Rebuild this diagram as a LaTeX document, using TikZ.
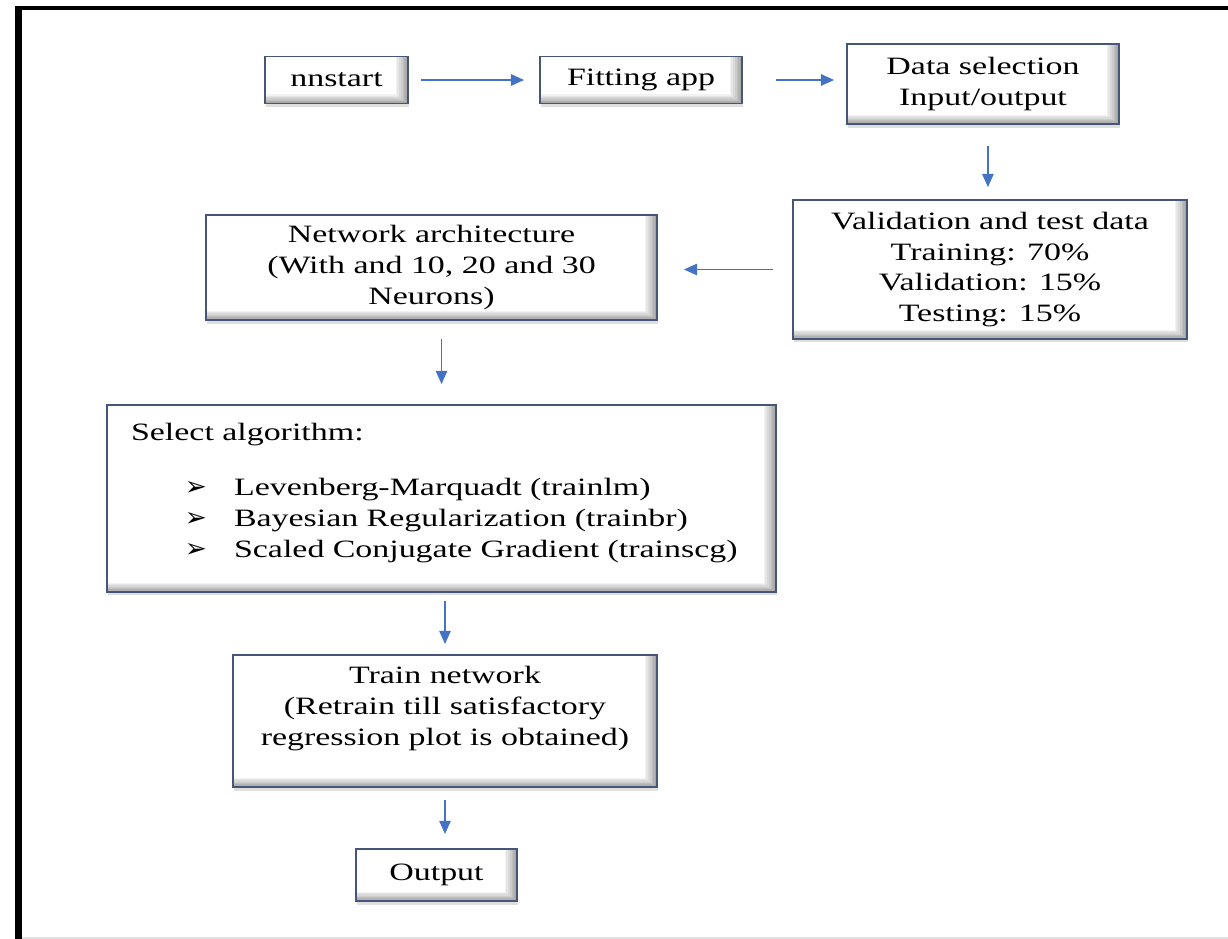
\documentclass[tikz,border=0pt]{standalone}
\usepackage{fontspec}
\setmainfont[FakeStretch=1.36]{Liberation Serif}
\newfontfamily\bulletfont{DejaVu Sans}
\usetikzlibrary{arrows.meta,shadows}

\definecolor{boxline}{RGB}{70,86,120}
\definecolor{flowblue}{RGB}{68,114,196}
\newcommand{\algitem}{\hspace*{30.7pt}\makebox[27.9pt][l]{\bulletfont\fontsize{15}{17}\selectfont ➢}}

\begin{document}
\begin{tikzpicture}[x=0.02cm, y=-0.02cm,
	font=\fontsize{14.2}{17.6}\selectfont,
	bevelbox/.style={draw=boxline, line width=1.1pt, fill=white, align=center, inner sep=0pt,
		drop shadow={shadow xshift=0.5pt, shadow yshift=-2pt, opacity=0.25},
		path picture={
			\foreach \k [evaluate=\k as \g using int(5*\k)] in {1,...,7} {
				\fill[black!\g] ([xshift=-8pt+\k pt]path picture bounding box.north east) rectangle (path picture bounding box.south east);
				\fill[black!\g] ([yshift=6pt-0.75*\k pt]path picture bounding box.south west) rectangle (path picture bounding box.south east);
			}
			\draw[boxline!70!black, line width=1.6pt] (path picture bounding box.north east) -- (path picture bounding box.south east);
		}},
	flow/.style={draw=flowblue, line width=0.8pt, -{Triangle[length=7.5pt,width=6.5pt]}}]
	\useasboundingbox (0,0) rectangle (1228,939);
	% Frame:
	\draw[line width=0.08cm] (15,8) -- (1228,8);
	\draw[line width=0.13cm] (18.5,6) -- (18.5,939);
	\draw[black!12, line width=0.04cm] (22,937.5) -- (1228,937.5);
	% Boxes:
	\node[bevelbox, minimum width=2.86cm, minimum height=0.94cm] (nnstart) at (336.5,80) {nnstart};
	\node[bevelbox, minimum width=4.04cm, minimum height=0.94cm] (fitting) at (641,80) {Fitting app};
	\node[bevelbox, minimum width=5.44cm, minimum height=1.6cm] (datasel) at (983,84) {Data selection\\Input/output};
	\node[bevelbox, minimum width=7.88cm, minimum height=2.78cm] (valid) at (990,269.5) {Validation and test data\\Training: 70\%\\Validation: 15\%\\Testing: 15\%};
	\node[bevelbox, minimum width=9.02cm, minimum height=2.1cm] (network) at (431.5,267.5) {Network architecture\\(With and 10, 20 and 30\\Neurons)};
	\node[bevelbox, minimum width=13.38cm, minimum height=3.74cm, text width=12.42cm, align=left] (select) at (441.5,498.5) {Select algorithm:\\[14pt]
		\algitem Levenberg-Marquadt (trainlm)\\
		\algitem Bayesian Regularization (trainbr)\\
		\algitem Scaled Conjugate Gradient (trainscg)\\[-8pt]\mbox{}};
	\node[bevelbox, minimum width=8.48cm, minimum height=2.64cm] (train) at (445,721) {Train network\\(Retrain till satisfactory\\regression plot is obtained)\\\mbox{}};
	\node[bevelbox, minimum width=3.22cm, minimum height=1.04cm] (output) at (436.5,875) {Output};
	% Arrows:
	\draw[flow, shorten <=6.8pt, shorten >=8.5pt] (nnstart) -- (fitting);
	\draw[flow, shorten <=18.8pt, shorten >=6.8pt] (fitting.east) -- (fitting.east -| datasel.west);
	\draw[flow, shorten <=12pt, shorten >=6.8pt] ([xshift=2.8pt]datasel.south) -- ([xshift=2.8pt]datasel.south |- valid.north);
	\draw[flow, shorten <=10.8pt, shorten >=14.8pt] (valid.west) -- (valid.west -| network.east);
	\draw[flow, shorten <=10pt, shorten >=11.4pt] (select.north |- network.south) -- (select.north);
	\draw[flow, shorten <=4.6pt, shorten >=5.7pt] (train.north |- select.south) -- (train.north);
	\draw[flow, shorten <=6.8pt, shorten >=8pt] (train.south) -- (train.south |- output.north);
\end{tikzpicture}
\end{document}
